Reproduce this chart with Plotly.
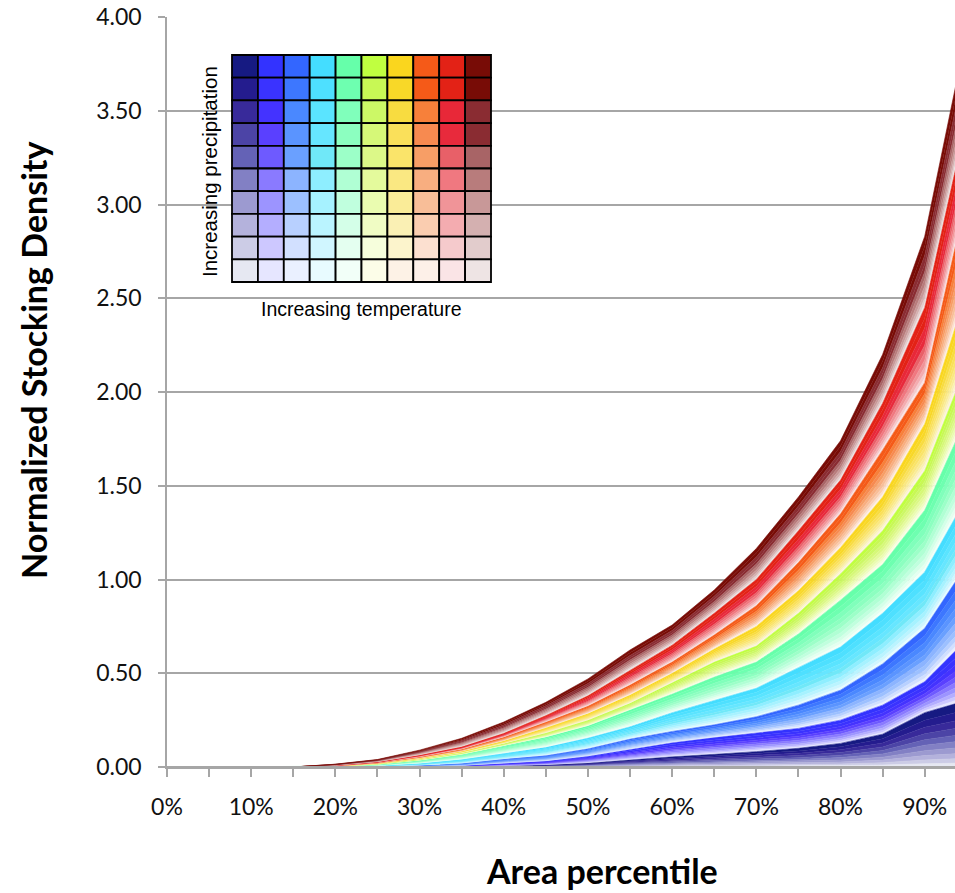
import plotly.graph_objects as go

# ---------------- data ----------------
area_pct = [0, 5, 10, 15, 20, 25, 30, 35, 40, 45, 50, 55, 60, 65, 70, 75, 80, 85, 90, 95]
x_tick_vals = [0, 5, 10, 15, 20, 25, 30, 35, 40, 45, 50, 55, 60, 65, 70, 75, 80, 85, 90]
x_tick_text = ["0%", "", "10%", "", "20%", "", "30%", "", "40%", "", "50%", "", "60%", "", "70%", "", "80%", "", "90%"]
y_tick_vals = [0, 0.5, 1.0, 1.5, 2.0, 2.5, 3.0, 3.5, 4.0]

# cumulative top boundary of each temperature group (coldest first)
top_navy   = [0, 0, 0, 0, 0.000, 0.000, 0.001, 0.003, 0.007, 0.012, 0.022, 0.040, 0.055, 0.068, 0.082, 0.100, 0.126, 0.175, 0.290, 0.355]
top_blue   = [0, 0, 0, 0, 0.000, 0.001, 0.004, 0.008, 0.020, 0.032, 0.058, 0.095, 0.130, 0.157, 0.180, 0.206, 0.250, 0.330, 0.455, 0.680]
top_azure  = [0, 0, 0, 0, 0.001, 0.003, 0.010, 0.020, 0.043, 0.062, 0.098, 0.150, 0.190, 0.225, 0.268, 0.330, 0.410, 0.550, 0.740, 1.080]
top_cyan   = [0, 0, 0, 0, 0.002, 0.008, 0.020, 0.041, 0.073, 0.105, 0.155, 0.215, 0.290, 0.355, 0.420, 0.530, 0.640, 0.820, 1.040, 1.440]
top_mint   = [0, 0, 0, 0, 0.005, 0.015, 0.037, 0.068, 0.114, 0.160, 0.220, 0.304, 0.390, 0.480, 0.560, 0.710, 0.890, 1.080, 1.370, 1.870]
top_lime   = [0, 0, 0, 0, 0.006, 0.018, 0.043, 0.077, 0.126, 0.182, 0.250, 0.340, 0.450, 0.560, 0.645, 0.820, 1.030, 1.260, 1.580, 2.150]
top_yellow = [0, 0, 0, 0, 0.007, 0.021, 0.048, 0.085, 0.140, 0.210, 0.285, 0.384, 0.500, 0.630, 0.750, 0.940, 1.170, 1.440, 1.830, 2.540]
top_orange = [0, 0, 0, 0, 0.008, 0.024, 0.055, 0.096, 0.160, 0.240, 0.325, 0.437, 0.560, 0.704, 0.860, 1.090, 1.350, 1.690, 2.050, 3.050]
top_red    = [0, 0, 0, 0, 0.010, 0.028, 0.064, 0.108, 0.180, 0.275, 0.380, 0.517, 0.650, 0.820, 1.000, 1.260, 1.530, 1.940, 2.450, 3.460]
top_maroon = [0, 0, 0, 0, 0.015, 0.040, 0.090, 0.153, 0.240, 0.345, 0.470, 0.624, 0.757, 0.944, 1.165, 1.440, 1.740, 2.200, 2.830, 3.920]

# share of each precipitation class inside a temperature group (wettest first)
precip_share = [0.14, 0.13, 0.12, 0.11, 0.10, 0.10, 0.09, 0.08, 0.07, 0.06]

# ---------------- colours: columns = temperature, rows = precipitation (wettest first) ----------------
navy_shades   = ["#161a82", "#241c8e", "#382a9a", "#4c44a6", "#6462b6", "#8280c4", "#9c9ad0", "#b4b2dc", "#cccce6", "#e6e8f2"]
blue_shades   = ["#3333ff", "#3a33ff", "#4433ff", "#5a40ff", "#6e5aff", "#8a7aff", "#9c94ff", "#b4aeff", "#cdc8ff", "#e6e6ff"]
azure_shades  = ["#3366ff", "#3d77ff", "#4a88ff", "#5a94ff", "#6aa0ff", "#8cb4ff", "#9cc0ff", "#b8d0ff", "#d2e0ff", "#eaf0ff"]
cyan_shades   = ["#44ddff", "#4ee0ff", "#5ae4ff", "#66e6ff", "#70e8f8", "#8eeeff", "#a6f2ff", "#baf4ff", "#d0f6ff", "#e8fbff"]
mint_shades   = ["#66ffaa", "#6effb0", "#80ffbb", "#8cffc0", "#9cffc8", "#b0ffd4", "#c0ffde", "#d4ffe8", "#e4fff0", "#f2fff8"]
lime_shades   = ["#c0ff40", "#c8f855", "#ccf866", "#d6f878", "#dcf888", "#e4fa9c", "#eafcb0", "#f0fcc4", "#f6fedc", "#fcfde8"]
yellow_shades = ["#fad61e", "#f8d828", "#f8dc40", "#fae05a", "#fae46a", "#fae882", "#faec98", "#faf0b4", "#fcf4cc", "#fdf2e6"]
orange_shades = ["#f55a18", "#f55a18", "#f7803a", "#f78a50", "#f79e66", "#f8ae80", "#f8be98", "#facdb0", "#fce0d0", "#fdf0e8"]
red_shades    = ["#e32216", "#e32216", "#e82838", "#e82a3c", "#e86068", "#f07880", "#f09498", "#f4acb0", "#f5cacc", "#fae4e6"]
maroon_shades = ["#780c06", "#780c06", "#8a2c32", "#8a2c32", "#a86466", "#b87c7c", "#c89898", "#d4b0b0", "#e2cccc", "#eee4e4"]

group_tops = [top_navy, top_blue, top_azure, top_cyan, top_mint, top_lime, top_yellow, top_orange, top_red, top_maroon]
group_shades = [navy_shades, blue_shades, azure_shades, cyan_shades, mint_shades, lime_shades,
                yellow_shades, orange_shades, red_shades, maroon_shades]

# ---------------- figure ----------------
W, H = 955, 893
ML, MR, MT, MB = 167, 0, 17, 126
fig = go.Figure()

prev = [0.0] * len(area_pct)
for tops, shades in zip(group_tops, group_shades):
    band = [t - p for t, p in zip(tops, prev)]
    for r in reversed(range(len(precip_share))):   # driest (lightest) at the bottom of each band
        fig.add_trace(go.Scatter(
            x=area_pct, y=[b * precip_share[r] for b in band],
            stackgroup="one", mode="lines",
            line=dict(width=0.6, color=shades[r]), fillcolor=shades[r],
            hoverinfo="skip", showlegend=False))
    prev = tops

grid_col = "#a6a6a6"
tick_font = dict(family="Lato, Carlito, sans-serif", size=23, color="#111111")

fig.update_xaxes(range=[0, 93.6], tickmode="array", tickvals=x_tick_vals, ticktext=x_tick_text,
                 showline=True, linecolor=grid_col, linewidth=2, showgrid=False, zeroline=False,
                 ticks="outside", ticklen=8, tickwidth=1.5, tickcolor=grid_col,
                 tickfont=tick_font, ticklabelstandoff=10, layer="above traces")
fig.update_yaxes(range=[0, 4], tickmode="array", tickvals=y_tick_vals, tickformat=".2f",
                 showline=True, linecolor=grid_col, linewidth=1.5,
                 showgrid=True, gridcolor=grid_col, gridwidth=1.5, zeroline=False,
                 ticks="outside", ticklen=7, tickwidth=1.5, tickcolor=grid_col,
                 tickfont=tick_font, ticklabelstandoff=12)

pw, ph = W - ML - MR, H - MT - MB
def px_x(p):
    return (p - ML) / pw
def px_y(p):
    return (H - MB - p) / ph

shapes = [
    # grey base line drawn over the (zero-height) coloured outlines
    dict(type="line", xref="paper", yref="paper", layer="above", x0=0, x1=1, y0=0, y1=0,
         line=dict(color=grid_col, width=2)),
]

# inset colour-key grid (legend)
gx0, gx1, gy0, gy1 = 232, 491, 55, 282
cw, ch = (gx1 - gx0) / 10, (gy1 - gy0) / 10
for c, shades in enumerate(group_shades):
    for r, col in enumerate(shades):
        shapes.append(dict(type="rect", xref="paper", yref="paper", layer="above",
                           x0=px_x(gx0 + c * cw), x1=px_x(gx0 + (c + 1) * cw),
                           y0=px_y(gy0 + (r + 1) * ch), y1=px_y(gy0 + r * ch),
                           fillcolor=col, line=dict(color="#000000", width=1.8)))

annotations = [
    dict(text="Increasing precipitation", xref="paper", yref="paper", x=px_x(209), y=px_y(172),
         xanchor="center", yanchor="middle",
         textangle=-90, showarrow=False, font=dict(family="Liberation Sans, Arial", size=20.5, color="#000")),
    dict(text="Increasing temperature", xref="paper", yref="paper", x=px_x(361), y=px_y(309),
         xanchor="center", yanchor="middle",
         showarrow=False, font=dict(family="Liberation Sans, Arial", size=19.5, color="#000")),
    dict(text="<b>Normalized Stocking Density</b>", xref="paper", yref="paper", x=px_x(33), y=px_y(361),
         xanchor="center", yanchor="middle",
         textangle=-90, showarrow=False, font=dict(family="Lato, Carlito, sans-serif", size=34, color="#000")),
    dict(text="<b>Area percentile</b>", xref="paper", yref="paper", x=px_x(602), y=px_y(870),
         xanchor="center", yanchor="middle",
         showarrow=False, font=dict(family="Lato, Carlito, sans-serif", size=34, color="#000")),
]

fig.update_layout(width=W, height=H, margin=dict(l=ML, r=MR, t=MT, b=MB, pad=0),
                  paper_bgcolor="white", plot_bgcolor="white",
                  shapes=shapes, annotations=annotations, showlegend=False)

fig.write_html("out.html", config={"displayModeBar": False},
               post_script="document.body.style.margin='0';document.body.style.overflow='hidden';")
